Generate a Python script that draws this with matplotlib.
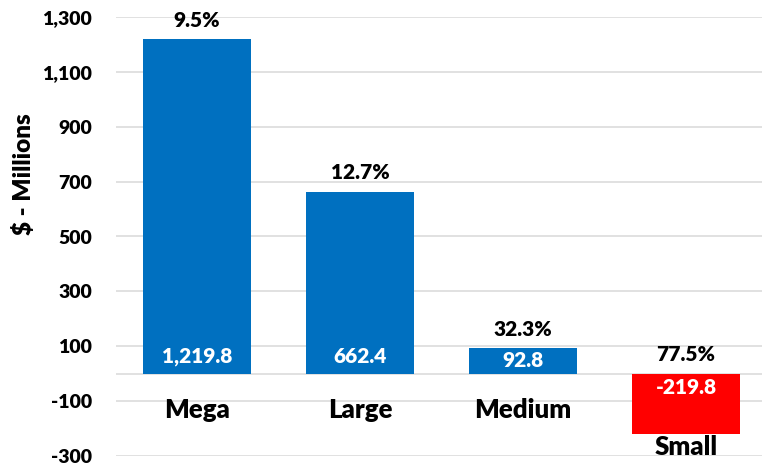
import matplotlib.pyplot as plt

plt.rcParams['font.family'] = ['Lato', 'DejaVu Sans']
plt.rcParams['font.weight'] = 'heavy'

categories = ["Mega", "Large", "Medium", "Small"]
values = [1219.8, 662.4, 92.8, -219.8]
pct_labels = ["9.5%", "12.7%", "32.3%", "77.5%"]
y_ticks = [-300, -100, 100, 300, 500, 700, 900, 1100, 1300]

blue = "#0070C0"
red = "#FF0000"
colors = [blue if v >= 0 else red for v in values]
W = 'heavy'

fig = plt.figure(figsize=(7.62, 4.65), dpi=100)
ax = fig.add_axes([115.5 / 762, 9 / 465, 646.5 / 762, 439 / 465])

x = list(range(len(categories)))
ax.bar(x, values, width=0.66, color=colors, zorder=3)

ax.set_xlim(-0.5, 3.466)
ax.set_ylim(-300, 1300)
ax.set_yticks(y_ticks)
ax.set_yticklabels([f"{t:,}" for t in y_ticks], fontsize=14, fontweight=W)
ax.tick_params(axis='y', length=0, pad=17)
ax.set_xticks([])
ax.grid(axis='y', color='#D9D9D9', linewidth=1.1, zorder=0)
ax.axhline(0, color='#D9D9D9', linewidth=1.1, zorder=1)
for s in ax.spines.values():
    s.set_visible(False)

fig.text(24 / 762, 1 - 174 / 465, "$ - Millions", rotation=90, ha='center',
         va='center', fontsize=17.5, fontweight=W)

px_per_unit = 439 / 1600
for xi, v, p in zip(x, values, pct_labels):
    top = max(v, 0)
    bottom = min(v, 0)
    half = abs(v) * px_per_unit / 2

    # percentage above the bar (or above zero for a negative bar)
    ax.annotate(p, (xi, top), xytext=(0, 19 * 0.72), textcoords='offset points',
                ha='center', va='center', fontsize=15, fontweight=W)

    # value inside the bar near its base
    off = min(17, half) if v >= 0 else -min(14, half)
    ax.annotate(f"{v:,.1f}", (xi, 0), xytext=(0, off * 0.72),
                textcoords='offset points', ha='center', va='center',
                fontsize=15, fontweight=W, color='white', zorder=4)

    # category name under the zero line or under a negative bar
    if v >= 0:
        ax.annotate(categories[xi], (xi, 0), xytext=(0, -36 * 0.72),
                    textcoords='offset points', ha='center', va='center',
                    fontsize=18.5, fontweight=W)
    else:
        ax.annotate(categories[xi], (xi, bottom), xytext=(0, -13 * 0.72),
                    textcoords='offset points', ha='center', va='center',
                    fontsize=18.5, fontweight=W)

fig.savefig("out.png", dpi=100)
